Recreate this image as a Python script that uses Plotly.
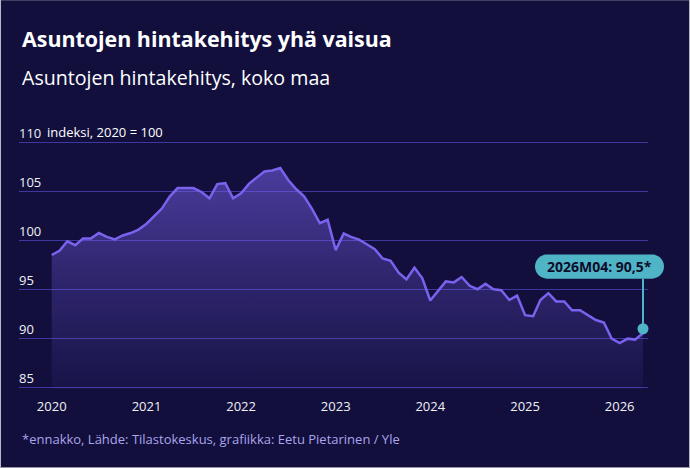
import plotly.graph_objects as go
import pandas as pd

# ---- data ----
index_values = [
    98.5, 98.95, 99.9, 99.5, 100.2, 100.2, 100.75, 100.35, 100.1, 100.5, 100.75, 101.1,      # 2020
    101.7, 102.5, 103.25, 104.5, 105.35, 105.35, 105.35, 104.95, 104.3, 105.75, 105.85, 104.3,  # 2021
    104.8, 105.8, 106.35, 107.05, 107.15, 107.4, 106.2, 105.25, 104.5, 103.25, 101.75, 102.1,   # 2022
    99.0, 100.7, 100.35, 100.07, 99.6, 99.1, 98.15, 97.9, 96.7, 96.0, 97.2, 96.15,             # 2023
    93.85, 94.85, 95.8, 95.7, 96.25, 95.35, 95.0, 95.55, 95.0, 94.9, 93.9, 94.35,               # 2024
    92.35, 92.25, 93.9, 94.6, 93.75, 93.75, 92.85, 92.85, 92.3, 91.85, 91.6, 89.95,             # 2025
    89.5, 89.95, 89.85, 90.5,                                                                   # 2026
]
months = pd.date_range("2020-01-01", periods=len(index_values), freq="MS")
year_ticks = [2020, 2021, 2022, 2023, 2024, 2025, 2026]
y_ticks = [85, 90, 95, 100, 105, 110]
last_label = "2026M04"

title = "Asuntojen hintakehitys yhä vaisua"
subtitle = "Asuntojen hintakehitys, koko maa"
unit_label = "indeksi, 2020 = 100"
footer = "*ennakko, Lähde: Tilastokeskus, grafiikka: Eetu Pietarinen / Yle"

# ---- style ----
W, H = 690, 468
BG = "#120f3d"
GRID = "#3e37a0"
LINE = "#7a62ee"
TEAL = "#4fb4c5"
FONT = "Open Sans"
Y_RANGE = [84.8, 112.0]
PX_PER_UNIT = 9.76
Y85_PX = 387.0
MB = H - (Y85_PX + (85 - Y_RANGE[0]) * PX_PER_UNIT)
PH = (Y_RANGE[1] - Y_RANGE[0]) * PX_PER_UNIT
MT = H - MB - PH
ML, MR = 19, 42
PW = W - ML - MR

# x range so that first month sits ~33px right of plot edge
days_per_px = (months[-1] - months[0]).days / 591.3
x_start = months[0] - pd.Timedelta(days=32.7 * days_per_px)
x_end = months[-1] + pd.Timedelta(days=5 * days_per_px)


def px(x, y):
    """pixel -> paper coords"""
    return (x - ML) / PW, (H - MB - y) / PH


def data_px(t, v):
    """data -> pixel coords (same mapping as the axes)"""
    xp = ML + (t - x_start) / (x_end - x_start) * PW
    yp = H - MB - (v - Y_RANGE[0]) / (Y_RANGE[1] - Y_RANGE[0]) * PH
    return xp, yp


fig = go.Figure()
fig.add_trace(go.Scatter(
    x=months, y=index_values, mode="lines",
    line=dict(color=LINE, width=2.5),
    fill="tozeroy",
    fillgradient=dict(type="vertical", start=85, stop=max(index_values),
                      colorscale=[[0, "rgba(122,98,238,0.06)"],
                                  [0.5, "rgba(122,98,238,0.27)"],
                                  [1, "rgba(122,98,238,0.54)"]]),
    hoverinfo="skip", showlegend=False,
))

anns = []
x, y = px(20, 39)
anns.append(dict(text=f"<b>{title}</b>", x=x, y=y, xref="paper", yref="paper",
                 xanchor="left", yanchor="middle", showarrow=False,
                 font=dict(family=FONT, size=21.4, color="#ffffff")))
x, y = px(20, 78)
anns.append(dict(text=subtitle, x=x, y=y, xref="paper", yref="paper",
                 xanchor="left", yanchor="middle", showarrow=False,
                 font=dict(family=FONT, size=19.6, color="#ffffff")))
x, y = px(45, 132)
anns.append(dict(text=unit_label, x=x, y=y, xref="paper", yref="paper",
                 xanchor="left", yanchor="middle", showarrow=False,
                 font=dict(family=FONT, size=13, color="#ffffff")))
x, y = px(20, 439)
anns.append(dict(text=footer, x=x, y=y, xref="paper", yref="paper",
                 xanchor="left", yanchor="middle", showarrow=False,
                 font=dict(family=FONT, size=13, color="#aaa5ea")))

# ---- last-value callout ----
last_x, last_y = months[-1], index_values[-1]
lx, ly = data_px(last_x, last_y)
value_txt = f"{last_y:.1f}".replace(".", ",")
tx, ty = px(lx - 43.5, ly - 66.5)
anns.append(dict(text=f"<b>{last_label}: {value_txt}*</b>", x=tx, y=ty,
                 xref="paper", yref="paper", showarrow=False,
                 xanchor="center", yanchor="middle",
                 font=dict(family=FONT, size=14, color="#0d0c2b")))

L, R, B, T, r = lx - 108, lx + 21, ly - 54.5, ly - 78.5, 12  # pixel (y down)
k = 0.5523 * r


def P(a, b):
    u, v = px(a, b)
    return f"{u:.5f},{v:.5f}"


pill = (f"M{P(L+r, B)} L{P(R-r, B)} C{P(R-r+k, B)} {P(R, B-r+k)} {P(R, B-r)} "
        f"C{P(R, B-r-k)} {P(R-r+k, T)} {P(R-r, T)} L{P(L+r, T)} "
        f"C{P(L+r-k, T)} {P(L, T+r-k)} {P(L, T+r)} C{P(L, T+r+k)} {P(L+r-k, B)} {P(L+r, B)} Z")

dot_y = ly - 4.5
cx0, cy0 = px(lx - 5.5, dot_y + 5.5)
cx1, cy1 = px(lx + 5.5, dot_y - 5.5)
lx0, ly0 = px(lx, dot_y)
lx1, ly1 = px(lx, B)
shapes = [
    dict(type="path", path=pill, xref="paper", yref="paper",
         fillcolor=TEAL, line=dict(width=0), layer="above"),
    dict(type="line", x0=lx0, x1=lx1, y0=ly0, y1=ly1, xref="paper", yref="paper",
         line=dict(color=TEAL, width=2), layer="above"),
    dict(type="circle", x0=cx0, x1=cx1, y0=cy0, y1=cy1, xref="paper", yref="paper",
         fillcolor=TEAL, line=dict(width=0), layer="above"),
]
bx0, by0 = px(0.5, H - 0.5)
bx1, by1 = px(W - 0.5, 0.5)
shapes.append(dict(type="rect", xref="paper", yref="paper", x0=bx0, x1=bx1, y0=by0, y1=by1,
                   line=dict(color="#b9b9c4", width=1), layer="above"))

fig.update_layout(
    width=W, height=H, margin=dict(l=ML, r=MR, t=MT, b=MB, pad=0),
    paper_bgcolor=BG, plot_bgcolor=BG,
    font=dict(family=FONT, color="#ffffff"),
    annotations=anns, shapes=shapes, showlegend=False,
    xaxis=dict(range=[x_start, x_end], type="date",
               tickvals=[f"{yr}-01-01" for yr in year_ticks],
               ticktext=[str(yr) for yr in year_ticks],
               showgrid=False, zeroline=False, showline=False, ticks="",
               ticklabelstandoff=8,
               tickfont=dict(family=FONT, size=13, color="#f0f0f5")),
    yaxis=dict(range=Y_RANGE, tickvals=y_ticks, ticktext=[str(v) for v in y_ticks],
               ticklabelposition="inside top", ticklabelstandoff=-3,
               showgrid=True, gridcolor=GRID, gridwidth=1.2,
               zeroline=False, showline=False, ticks="",
               tickfont=dict(family=FONT, size=13, color="#f0f0f5")),
)

fig.write_html("out.html")
